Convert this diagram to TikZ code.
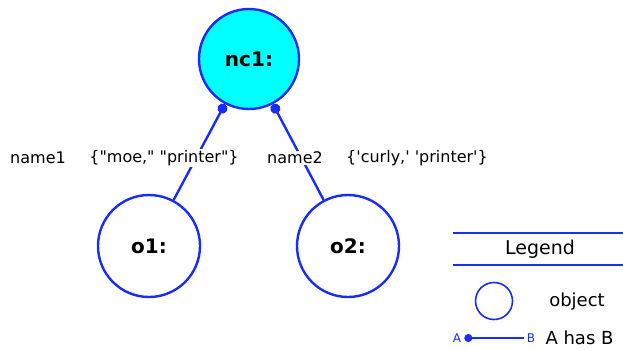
\documentclass[tikz,border=0pt]{standalone}
\usepackage{fontspec}
\setmainfont{DejaVu Sans}
\usetikzlibrary{arrows.meta}
\definecolor{objblue}{RGB}{25,45,255}
\definecolor{nccyan}{RGB}{0,255,255}
\begin{document}
\begin{tikzpicture}[x=1pt,y=-1pt,
obj/.style={circle, draw=objblue, line width=2.4pt, inner sep=0pt, minimum size=102pt, font=\fontsize{20}{24}\selectfont\bfseries},
has/.style={draw=objblue, line width=2.4pt, {Circle[length=10pt]}-},
lbl/.style={fill=white, inner sep=1pt, font=\fontsize{16}{19}\selectfont}]
\useasboundingbox (0,0) rectangle (623,350);
\node[obj, fill=nccyan, minimum size=100pt] (nc1) at (249,59){nc1:};
\node[obj] (o1) at (149,246){o1:};
\node[obj] (o2) at (348,246){o2:};
\draw[has](nc1) -- (o1);
\draw[has](nc1) -- (o2);
\node[lbl] (nm1) at (38,158){name1};
\node[lbl] (set1) at (164,158){\{\textquotedbl moe,\textquotedbl{} \textquotedbl printer\textquotedbl\}};
\node[lbl] (nm2) at (295,158){name2};
\node[lbl] (set2) at (417,158){\{\textquotesingle curly,\textquotesingle{} \textquotesingle printer\textquotesingle\}};
\draw[objblue, line width=1.8pt] (453,233) -- (623,233);
\draw[objblue, line width=1.8pt] (453,265) -- (623,265);
\node[font=\fontsize{19}{23}\selectfont] (lgtitle) at (540,249){Legend};
\node[circle, draw=objblue, line width=1.6pt, inner sep=0pt, minimum size=37pt] (lgobj) at (494,301){};
\node[font=\fontsize{18}{22}\selectfont] (lgobjtxt) at (577,302){object};
\node[text=objblue, inner sep=3pt, font=\fontsize{12}{14}\selectfont] (lgA) at (457,338){A};
\node[text=objblue, inner sep=3pt, font=\fontsize{12}{14}\selectfont] (lgB) at (531,338){B};
\draw[has, line width=1.8pt, {Circle[length=8pt]}-](lgA) -- (lgB);
\node[anchor=west, font=\fontsize{18}{22}\selectfont] (lghas) at (542,338){A has B};
\end{tikzpicture}
\end{document}
